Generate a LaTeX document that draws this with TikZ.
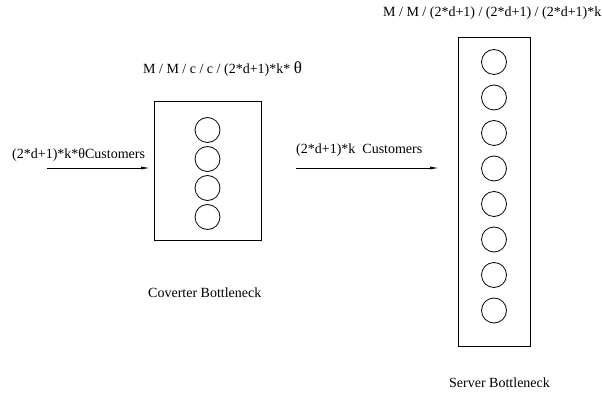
\documentclass[tikz,border=0pt]{standalone}
\usepackage{fontspec}
\setmainfont{Liberation Serif}
\usetikzlibrary{calc,arrows.meta}

\tikzset{
	queuebox/.style={draw, line width=0.8pt, inner sep=0pt},
	server/.style={draw, circle, line width=0.8pt, minimum size=25pt, inner sep=0pt},
	flow/.style={line width=0.8pt, -{Latex[length=9pt, width=3pt]}},
	lbl/.style={inner sep=0pt, font=\fontsize{14}{16}\selectfont}
}

\begin{document}
\begin{tikzpicture}[x=1pt, y=-1pt]
	\useasboundingbox (0, 0) rectangle (602, 395);
	\node[queuebox, minimum width=107pt, minimum height=139pt] (conv) at (207.5, 170.5) {};
	\node[queuebox, minimum width=72pt, minimum height=309pt] (srv) at (494, 191.5) {};
	\foreach \y [count=\i] in {130, 159, 188, 217}
		\node[server] (cc\i) at (207.5, \y) {};
	\foreach \y [count=\i] in {62, 97.5, 133, 168.5, 204, 239.5, 275, 310.5}
		\node[server] (sc\i) at (494, \y) {};
	\coordinate (inA) at (47, 168);
	\coordinate (inB) at (150, 168);
	\coordinate (midA) at (296, 168);
	\coordinate (midB) at (439, 168);
	\draw[flow] (inA) -- (inB);
	\draw[flow] (midA) -- (midB);
	\node[lbl, anchor=west] (inlbl) at (12, 155) {(2*d+1)*k*θCustomers};
	\node[lbl, anchor=west] (midlbl) at (296, 150) {(2*d+1)*k\ \ Customers};
	\node[lbl, anchor=west] (convq) at (143, 69) {M / M / c / c / (2*d+1)*k* {\fontsize{17}{17}\selectfont θ}};
	\node[lbl, anchor=west] (srvq) at (383, 13) {M / M / (2*d+1) / (2*d+1) / (2*d+1)*k};
	\node[lbl, anchor=west] (convname) at (148, 293) {Coverter Bottleneck};
	\node[lbl, anchor=west] (srvname) at (449, 383) {Server Bottleneck};
\end{tikzpicture}
\end{document}
